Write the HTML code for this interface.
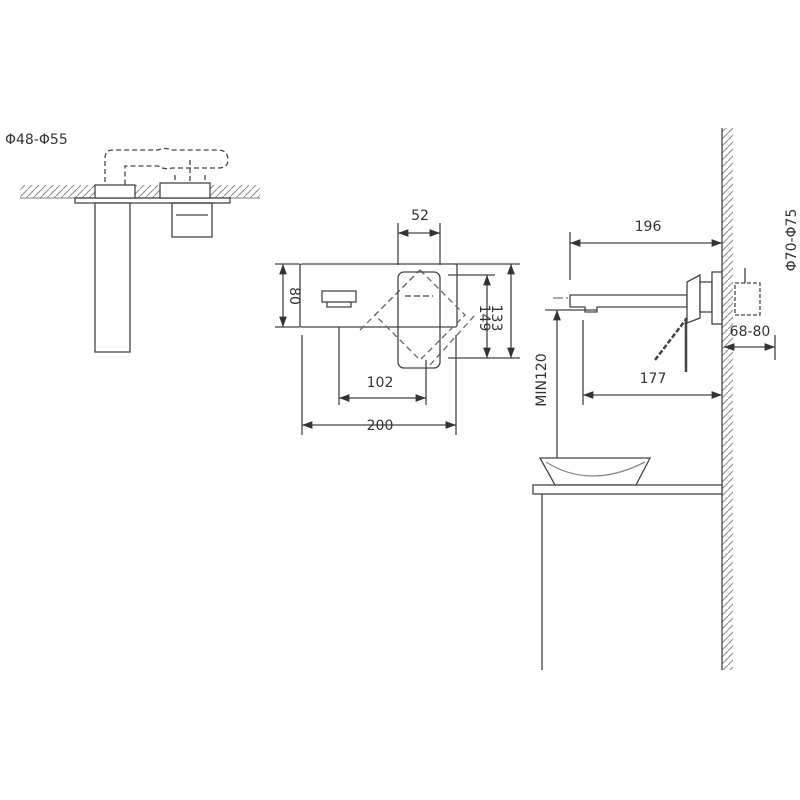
<!DOCTYPE html>
<html><head><style>html,body{margin:0;background:#fff}svg{display:block}text{font-family:"DejaVu Sans","Liberation Sans",sans-serif;fill:#333}</style></head>
<body>
<svg width="800" height="800" viewBox="0 0 800 800" xmlns="http://www.w3.org/2000/svg">
<defs>
<pattern id="h" width="7" height="7" patternUnits="userSpaceOnUse"><path d="M0 7L7 0" stroke="#888" stroke-width="1"/></pattern>
<marker id="a" markerWidth="8" markerHeight="6" refX="8" refY="3" orient="auto-start-reverse"><path d="M0 0L8 3L0 6z" fill="#333"/></marker>
</defs>
<g stroke="#444" stroke-width="1.3" fill="none">
<!-- left view -->
<rect x="20" y="185" width="240" height="13" fill="url(#h)" stroke="none"/>
<line x1="20" y1="198" x2="260" y2="198" stroke="#999"/>
<rect x="75" y="198" width="155" height="5" fill="#fff"/>
<rect x="95" y="203" width="35" height="149" fill="#fff"/>
<rect x="172" y="203" width="40" height="34"/>
<line x1="176" y1="215" x2="208" y2="215"/>
<g stroke-dasharray="5 3">
<path d="M105 190V158Q105 150 113 150H158Q165 147 172 150H218Q228 150 228 160Q228 168 218 168H172Q165 170 158 166H125V190"/>
<path d="M175 175V190M205 175V190M190 160V185"/>
</g>
<rect x="95" y="185" width="40" height="13" fill="#fff"/>
<rect x="160" y="183" width="50" height="15" fill="#fff"/>
<!-- middle view -->
<rect x="300" y="264" width="157" height="63" rx="2"/>
<rect x="322" y="291" width="34" height="11"/>
<path d="M327 302V307H351V302"/>
<g stroke-dasharray="6 4" stroke="#666">
<path d="M420 270L465 315L420 360L375 315Z" transform="rotate(0)"/>
<path d="M360 330L415 275M430 365L475 315"/>
</g>
<rect x="398" y="272" width="42" height="96" rx="6" fill="none"/>
<line x1="405" y1="296" x2="433" y2="296" stroke-dasharray="6 3"/>
<line x1="398" y1="223" x2="398" y2="265"/><line x1="440" y1="223" x2="440" y2="265"/>
<line x1="398" y1="233" x2="440" y2="233" marker-start="url(#a)" marker-end="url(#a)"/>
<line x1="275" y1="264" x2="300" y2="264"/><line x1="275" y1="327" x2="300" y2="327"/>
<line x1="283" y1="264" x2="283" y2="327" marker-start="url(#a)" marker-end="url(#a)"/>
<line x1="455" y1="264" x2="520" y2="264"/><line x1="448" y1="275" x2="495" y2="275"/><line x1="448" y1="358" x2="520" y2="358"/>
<line x1="487" y1="275" x2="487" y2="358" marker-start="url(#a)" marker-end="url(#a)"/>
<line x1="511" y1="264" x2="511" y2="358" marker-start="url(#a)" marker-end="url(#a)"/>
<line x1="339" y1="327" x2="339" y2="405"/><line x1="426" y1="360" x2="426" y2="405"/>
<line x1="339" y1="398" x2="426" y2="398" marker-start="url(#a)" marker-end="url(#a)"/>
<line x1="302" y1="335" x2="302" y2="435"/><line x1="456" y1="335" x2="456" y2="435"/>
<line x1="302" y1="425" x2="456" y2="425" marker-start="url(#a)" marker-end="url(#a)"/>
<!-- right view -->
<rect x="722" y="128" width="11" height="542" fill="url(#h)" stroke="none"/>
<line x1="722" y1="128" x2="722" y2="670"/>
<line x1="570" y1="232" x2="570" y2="280"/>
<line x1="570" y1="243" x2="722" y2="243" marker-start="url(#a)" marker-end="url(#a)"/>
<line x1="553" y1="298" x2="722" y2="298" stroke-dasharray="10 3 2 3" stroke="#777"/>
<path d="M570 295H687V307H597V312H585V307H570Z" fill="#fff"/>
<path d="M687 282L700 275V318L687 323Z" fill="#fff"/>
<rect x="700" y="282" width="12" height="30" fill="#fff"/>
<rect x="712" y="272" width="10" height="52" fill="#fff"/>
<path d="M735 283H760V315H735Z" stroke-dasharray="4 2"/>
<line x1="745" y1="268" x2="745" y2="283"/>
<line x1="545" y1="310" x2="597" y2="310"/>
<line x1="557" y1="458" x2="557" y2="310" marker-end="url(#a)"/>
<line x1="655" y1="360" x2="687" y2="318" stroke-dasharray="5 2" stroke-width="2.5"/>
<line x1="686" y1="318" x2="686" y2="372" stroke-width="2.5"/>
<line x1="583" y1="320" x2="583" y2="405"/>
<line x1="583" y1="395" x2="722" y2="395" marker-start="url(#a)" marker-end="url(#a)"/>
<line x1="775" y1="335" x2="775" y2="360"/>
<line x1="724" y1="347" x2="775" y2="347" marker-start="url(#a)" marker-end="url(#a)"/>
<path d="M540 458H650L636 485H555Z" fill="#fff"/>
<path d="M546 462Q590 490 645 462" stroke="#888"/>
<rect x="533" y="485" width="189" height="9" fill="#fff"/>
<line x1="542" y1="494" x2="542" y2="670"/>
</g>
<g font-size="14">
<text x="5" y="144">Φ48-Φ55</text>
<text x="420" y="220" text-anchor="middle">52</text>
<text x="380" y="387" text-anchor="middle">102</text>
<text x="380" y="430" text-anchor="middle">200</text>
<text transform="translate(290,296) rotate(90)" text-anchor="middle">80</text>
<text transform="translate(480,318) rotate(90)" text-anchor="middle">149</text>
<text transform="translate(492,318) rotate(90)" text-anchor="middle">133</text>
<text transform="translate(546,380) rotate(-90)" text-anchor="middle">MIN120</text>
<text x="648" y="231" text-anchor="middle">196</text>
<text x="653" y="383" text-anchor="middle">177</text>
<text x="750" y="336" text-anchor="middle">68-80</text>
<text transform="translate(796,240) rotate(-90)" text-anchor="middle">Φ70-Φ75</text>
</g>
</svg>
</body></html>
